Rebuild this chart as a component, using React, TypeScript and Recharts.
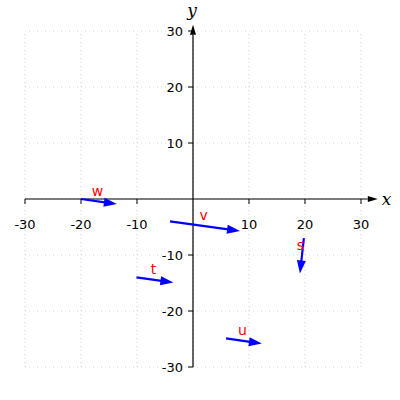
import { ReferenceDot, ReferenceLine, Scatter, ScatterChart, XAxis, YAxis } from 'recharts';

const gridValues = [-30, -20, -10, 0, 10, 20, 30];
const xTicks = [-30, -20, -10, 10, 20, 30];
const yTicks = [-30, -20, -10, 10, 20, 30];

const vectorNames = ['w', 'v', 's', 't', 'u'];
const startX = [-20, -4.1, 19.8, -10.1, 5.9];
const startY = [0, -4.0, -7.0, -14.0, -24.9];
const endX = [-13.6, 8.4, 19.1, -3.5, 12.3];
const endY = [-0.9, -5.7, -13.3, -14.9, -25.8];

const FONT = '"DejaVu Sans", sans-serif';

function vectorShape(name: string) {
  return (p: any) => {
    const { x1, y1, x2, y2 } = p;
    const len = Math.hypot(x2 - x1, y2 - y1);
    const ux = (x2 - x1) / len;
    const uy = (y2 - y1) / len;
    const hl = 13;
    const hw = 4.5;
    const bx = x2 - ux * hl;
    const by = y2 - uy * hl;
    const pts = `${x2},${y2} ${bx - uy * hw},${by + ux * hw} ${bx + uy * hw},${by - ux * hw}`;
    const mx = (x1 + x2) / 2 - 1.5;
    const my = (y1 + y2) / 2 - 6;
    return (
      <g>
        <line x1={x1} y1={y1} x2={bx + ux} y2={by + uy} stroke="#0000ff" strokeWidth={2.2} />
        <polygon points={pts} fill="#0000ff" />
        <text x={mx} y={my} fill="#ff0000" fontSize={14} fontFamily={FONT} textAnchor="middle">
          {name}
        </text>
      </g>
    );
  };
}

function axisShape(p: any) {
  const { x1, y1, x2, y2 } = p;
  const len = Math.hypot(x2 - x1, y2 - y1);
  const ux = (x2 - x1) / len;
  const uy = (y2 - y1) / len;
  const hl = 10;
  const hw = 3;
  const bx = x2 - ux * hl;
  const by = y2 - uy * hl;
  const pts = `${x2},${y2} ${bx - uy * hw},${by + ux * hw} ${bx + uy * hw},${by - ux * hw}`;
  return (
    <g>
      <line x1={x1} y1={y1} x2={bx} y2={by} stroke="#000" strokeWidth={1.2} />
      <polygon points={pts} fill="#000" />
    </g>
  );
}

function xTickShape(label: number) {
  return (p: any) => (
    <g>
      <line x1={p.cx} y1={p.cy} x2={p.cx} y2={p.cy + 5} stroke="#000" strokeWidth={1} />
      <text x={p.cx} y={p.cy + 30} fontSize={13} fontFamily={FONT} textAnchor="middle" fill="#000">
        {label}
      </text>
    </g>
  );
}

function yTickShape(label: number) {
  return (p: any) => (
    <g>
      <line x1={p.cx - 5} y1={p.cy} x2={p.cx} y2={p.cy} stroke="#000" strokeWidth={1} />
      <text x={p.cx - 10} y={p.cy + 4.5} fontSize={13} fontFamily={FONT} textAnchor="end" fill="#000">
        {label}
      </text>
    </g>
  );
}

const starts = startX.map((x, i) => ({ x, y: startY[i] }));

export default function App() {
  return (
    <div style={{ position: 'absolute', left: 0, top: 0 }}>
      <ScatterChart width={400} height={400} margin={{ top: 31, right: 39, bottom: 33, left: 25 }}>
        <XAxis type="number" dataKey="x" domain={[-30, 30]} hide />
        <YAxis type="number" dataKey="y" domain={[-30, 30]} hide />
        {gridValues.map((v) => (
          <ReferenceLine key={`gx${v}`} x={v} stroke="#c8c8c8" strokeWidth={0.8} strokeDasharray="1 3" />
        ))}
        {gridValues.map((v) => (
          <ReferenceLine key={`gy${v}`} y={v} stroke="#c8c8c8" strokeWidth={0.8} strokeDasharray="1 3" />
        ))}
        <ReferenceLine segment={[{ x: -30, y: 0 }, { x: 33, y: 0 }]} ifOverflow="visible" shape={axisShape} />
        <ReferenceLine segment={[{ x: 0, y: -30 }, { x: 0, y: 31.1 }]} ifOverflow="visible" shape={axisShape} />
        {xTicks.map((t) => (
          <ReferenceDot key={`xt${t}`} x={t} y={0} ifOverflow="visible" shape={xTickShape(t)} />
        ))}
        {yTicks.map((t) => (
          <ReferenceDot key={`yt${t}`} x={0} y={t} ifOverflow="visible" shape={yTickShape(t)} />
        ))}
        <ReferenceDot
          x={33}
          y={0}
          ifOverflow="visible"
          shape={(p: any) => (
            <text x={p.cx + 4} y={p.cy + 6} fontSize={17} fontStyle="italic" fontFamily='"DejaVu Serif", serif' fill="#000">
              x
            </text>
          )}
        />
        <ReferenceDot
          x={0}
          y={31.1}
          ifOverflow="visible"
          shape={(p: any) => (
            <text x={p.cx - 1} y={p.cy - 9} fontSize={17} fontStyle="italic" fontFamily='"DejaVu Serif", serif' fill="#000" textAnchor="middle">
              y
            </text>
          )}
        />
        <Scatter data={starts} shape={() => <g />} isAnimationActive={false} />
        {vectorNames.map((n, i) => (
          <ReferenceLine
            key={n}
            segment={[{ x: startX[i], y: startY[i] }, { x: endX[i], y: endY[i] }]}
            ifOverflow="visible"
            shape={vectorShape(n)}
          />
        ))}
      </ScatterChart>
    </div>
  );
}
